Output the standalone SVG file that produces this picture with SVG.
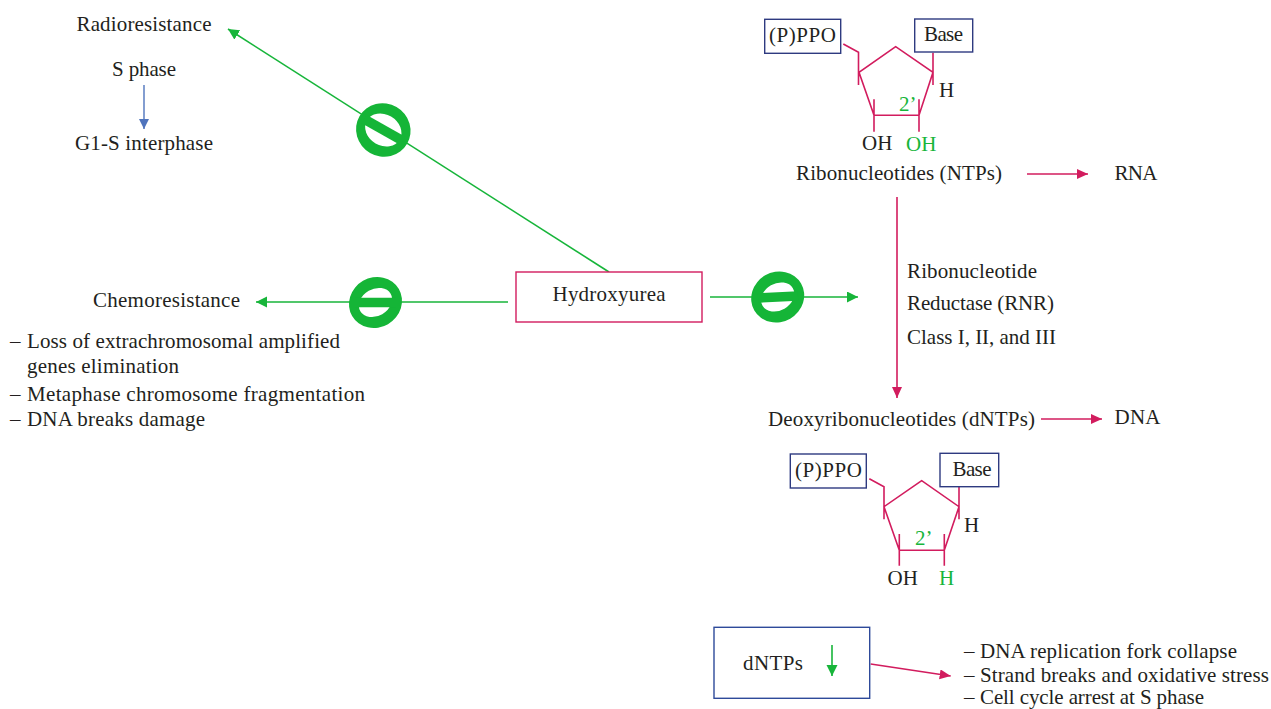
<svg xmlns="http://www.w3.org/2000/svg" width="1271" height="709" viewBox="0 0 1271 709">
<style>
text{font-family:"Liberation Serif","Times New Roman",serif;font-size:21px;fill:#231f20}
.g{fill:#17b53a}
.p{fill:none;stroke:#d21c5e;stroke-width:1.6}
.gl{fill:none;stroke:#17b53a;stroke-width:1.6}
.nb{fill:#fff;stroke:#2e3a80;stroke-width:1.4}
.ring{fill:#15b537;fill-rule:evenodd}
.bar{stroke:#15b537;stroke-width:9.5}
</style>
<defs>
<marker id="ag" markerUnits="userSpaceOnUse" markerWidth="12" markerHeight="12" refX="11" refY="5.5" orient="auto"><path d="M0 0L11 5.5L0 11z" fill="#17b53a"/></marker>
<marker id="ap" markerUnits="userSpaceOnUse" markerWidth="12" markerHeight="12" refX="11" refY="5" orient="auto"><path d="M0 0L11 5L0 10z" fill="#d21c5e"/></marker>
<marker id="ab" markerUnits="userSpaceOnUse" markerWidth="12" markerHeight="12" refX="10" refY="5" orient="auto"><path d="M0 0L10 5L0 10z" fill="#4f74bd"/></marker>
<path id="tilted" class="ring" d="M-27 0A27 25 0 1 0 27 0A27 25 0 1 0 -27 0ZM-17.500 0A17.500 13.500 0 1 0 17.500 0A17.500 13.500 0 1 0 -17.500 0Z"/>
</defs>
<g id="connectors">
<path class="gl" d="M609 272L228 29" marker-end="url(#ag)"/>
<path class="gl" d="M508 302H256" marker-end="url(#ag)"/>
<path class="gl" d="M710 297H858" marker-end="url(#ag)"/>
<path class="p" d="M897 197V398" marker-end="url(#ap)"/>
<path class="p" d="M1027 174H1088" marker-end="url(#ap)"/>
<path class="p" d="M1041 419H1102" marker-end="url(#ap)"/>
<path class="p" d="M870.700 664L950.700 676" marker-end="url(#ap)"/>
<path d="M144 85V129" fill="none" stroke="#4f74bd" stroke-width="1.400" marker-end="url(#ab)"/>
<path class="gl" d="M832 645V676" marker-end="url(#ag)"/>
</g>
<g id="inhibit-radio"><path class="ring" transform="translate(383.300 130) rotate(30)" d="M-27.500 0A27.500 26.500 0 1 0 27.500 0A27.500 26.500 0 1 0 -27.500 0ZM-19 0A19 15.500 0 1 0 19 0A19 15.500 0 1 0 -19 0Z"/><path class="bar" d="M364 119L403 141"/></g>
<g id="inhibit-chemo"><use href="#tilted" transform="translate(375.500 302.500) rotate(-30)"/><path class="bar" d="M355 302.500H396"/></g>
<g id="inhibit-rnr"><use href="#tilted" transform="translate(777.700 297) rotate(-30)"/><path class="bar" d="M758 298L798 296"/></g>
<g id="radioresistance"><text x="76.500" y="31" textLength="135" lengthAdjust="spacing">Radioresistance</text></g>
<g id="s-phase"><text x="112" y="76" textLength="64" lengthAdjust="spacing">S phase</text></g>
<g id="g1-s"><text x="75" y="150" textLength="138" lengthAdjust="spacing">G1-S interphase</text></g>
<g id="chemoresistance"><text x="93" y="307" textLength="147" lengthAdjust="spacing">Chemoresistance</text></g>
<g id="chemo-list">
<text x="10" y="348">–</text><text x="27" y="348" textLength="313" lengthAdjust="spacing">Loss of extrachromosomal amplified</text>
<text x="27" y="373" textLength="152" lengthAdjust="spacing">genes elimination</text>
<text x="10" y="401">–</text><text x="27" y="401" textLength="338" lengthAdjust="spacing">Metaphase chromosome fragmentation</text>
<text x="10" y="426">–</text><text x="27" y="426" textLength="178" lengthAdjust="spacing">DNA breaks damage</text>
</g>
<g id="hydroxyurea"><rect x="516" y="272" width="186" height="50" fill="#fff" stroke="#d21c5e" stroke-width="1.400"/><text x="552.500" y="301" textLength="113" lengthAdjust="spacing">Hydroxyurea</text></g>
<g id="ntp-structure">
<path class="p" d="M843.300 44L858.500 52.300V85M895.700 46.700L859 72.300L874 115.300H919L933 72.300ZM933 52.700V85M874 99.300V131.700M919 99.300V131.700"/>
<rect class="nb" x="764.700" y="19.300" width="76" height="34"/><text x="769" y="42" textLength="67" lengthAdjust="spacing">(P)PPO</text>
<rect class="nb" x="914.700" y="19" width="58" height="33"/><text x="924" y="41" textLength="39" lengthAdjust="spacing">Base</text>
<text x="939" y="97">H</text>
<text class="g" x="899" y="111">2’</text>
<text x="862" y="150">OH</text>
<text class="g" x="906" y="151">OH</text>
</g>
<g id="ntps"><text x="796" y="180" textLength="206" lengthAdjust="spacing">Ribonucleotides (NTPs)</text></g>
<g id="rna"><text x="1114.500" y="180" textLength="43" lengthAdjust="spacing">RNA</text></g>
<g id="rnr">
<text x="907" y="278" textLength="130" lengthAdjust="spacing">Ribonucleotide</text>
<text x="907" y="310" textLength="147" lengthAdjust="spacing">Reductase (RNR)</text>
<text x="907" y="344" textLength="149" lengthAdjust="spacing">Class I, II, and III</text>
</g>
<g id="dntps"><text x="768" y="426" textLength="267" lengthAdjust="spacing">Deoxyribonucleotides (dNTPs)</text></g>
<g id="dna"><text x="1114.500" y="424" textLength="46" lengthAdjust="spacing">DNA</text></g>
<g id="dntp-structure">
<path class="p" d="M869.300 478.700L884 486.700V519.300M921.700 480.700L884 506.700L899.300 550.300H944.300L959 506.700ZM959 486.700V519.300M899.300 534V565.700M944.300 534V565.700"/>
<rect class="nb" x="790.300" y="454" width="76" height="34"/><text x="795" y="477" textLength="67" lengthAdjust="spacing">(P)PPO</text>
<rect class="nb" x="940" y="453.300" width="58.700" height="33.400"/><text x="952.500" y="476" textLength="39" lengthAdjust="spacing">Base</text>
<text x="964" y="532">H</text>
<text class="g" x="915" y="545">2’</text>
<text x="887.500" y="585">OH</text>
<text class="g" x="939" y="585">H</text>
</g>
<g id="dntps-box"><rect x="714" y="627.300" width="155.700" height="71" fill="none" stroke="#2e4a9a" stroke-width="1.400"/><text x="743" y="670" textLength="60" lengthAdjust="spacing">dNTPs</text></g>
<g id="effects">
<text x="964" y="658">–</text><text x="980" y="658" textLength="257" lengthAdjust="spacing">DNA replication fork collapse</text>
<text x="964" y="682">–</text><text x="980" y="682" textLength="289" lengthAdjust="spacing">Strand breaks and oxidative stress</text>
<text x="964" y="704">–</text><text x="980" y="704" textLength="224" lengthAdjust="spacing">Cell cycle arrest at S phase</text>
</g>
</svg>
